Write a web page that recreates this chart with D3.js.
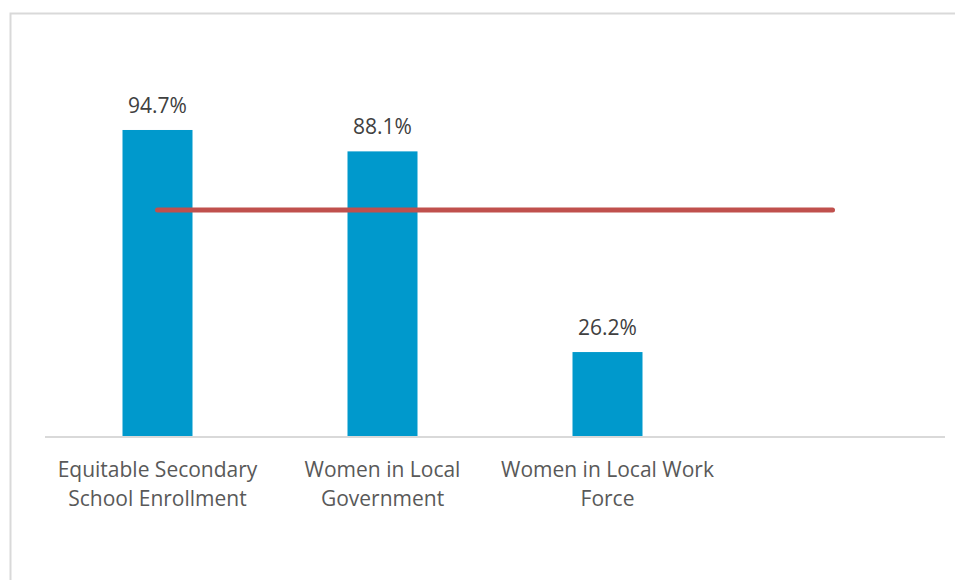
<!DOCTYPE html>
<html>
<head>
<meta charset="utf-8">
<title>Gender indicators</title>
<style>
    body { margin: 0; background: #fff; }
    .bar { fill: #0099cc; }
    .target { fill: none; stroke: #c0504d; stroke-width: 5px; stroke-linecap: round; }
    .value-label { font-family: "Open Sans", sans-serif; font-size: 21px; fill: #404040; text-anchor: middle; }
    .cat-label { font-family: "Open Sans", sans-serif; font-size: 21px; fill: #595959; text-anchor: middle; }
</style>
</head>
<body>
<svg id="container" width="955" height="580"></svg>
<script src="https://cdn.jsdelivr.net/npm/d3@7"></script>
<script>
    // chart data
    let categories = ["Equitable Secondary School Enrollment", "Women in Local Government", "Women in Local Work Force", ""]
    let labelLines = [["Equitable Secondary", "School Enrollment"], ["Women in Local", "Government"], ["Women in Local Work", "Force"], []]
    let values = [94.7, 88.1, 26.2, null]
    let target = [70, 70, 70, 70]

    let svg = d3.select("#container")

    // chart area border (only top and left edges show in the frame)
    svg.append("rect")
        .attr("x", 10.5).attr("y", 13.5)
        .attr("width", 1000).attr("height", 700)
        .attr("fill", "none")
        .attr("stroke", "#d9d9d9")
        .attr("stroke-width", 2)

    let left = 45, right = 945
    let baseline = 437

    let xScale = d3.scaleBand()
        .domain(categories)
        .range([left, right])

    let yScale = d3.scaleLinear()
        .domain([0, 100])
        .range([baseline, baseline - 324.2])

    let barWidth = 70

    // bars
    let data = categories.map((c, i) => ({ cat: c, value: values[i], lines: labelLines[i], target: target[i] }))

    svg.selectAll(".bar")
        .data(data.filter(d => d.value != null))
        .enter().append("rect")
        .attr("class", "bar")
        .attr("x", d => xScale(d.cat) + xScale.bandwidth() / 2 - barWidth / 2)
        .attr("width", barWidth)
        .attr("y", d => yScale(d.value))
        .attr("height", d => yScale(0) - yScale(d.value))

    // value labels
    svg.selectAll(".value-label")
        .data(data.filter(d => d.value != null))
        .enter().append("text")
        .attr("class", "value-label")
        .attr("x", d => xScale(d.cat) + xScale.bandwidth() / 2)
        .attr("y", d => yScale(d.value) - 17)
        .text(d => d.value.toFixed(1) + "%")

    // x axis line
    svg.append("line")
        .attr("x1", left).attr("x2", right)
        .attr("y1", yScale(0)).attr("y2", yScale(0))
        .attr("stroke", "#d9d9d9")
        .attr("stroke-width", 2)

    // category labels
    let cats = svg.selectAll(".cat-label")
        .data(data)
        .enter().append("text")
        .attr("class", "cat-label")
        .attr("x", d => xScale(d.cat) + xScale.bandwidth() / 2)
        .attr("y", 477)

    cats.selectAll("tspan")
        .data(d => d.lines.map(l => ({ line: l, x: xScale(d.cat) + xScale.bandwidth() / 2 })))
        .enter().append("tspan")
        .attr("x", t => t.x)
        .attr("dy", (t, i) => i == 0 ? 0 : 29)
        .text(t => t.line)

    // target line
    let line = d3.line()
        .x(d => xScale(d.cat) + xScale.bandwidth() / 2)
        .y(d => yScale(d.target))

    svg.append("path")
        .datum(data)
        .attr("class", "target")
        .attr("d", line)
</script>
</body>
</html>
